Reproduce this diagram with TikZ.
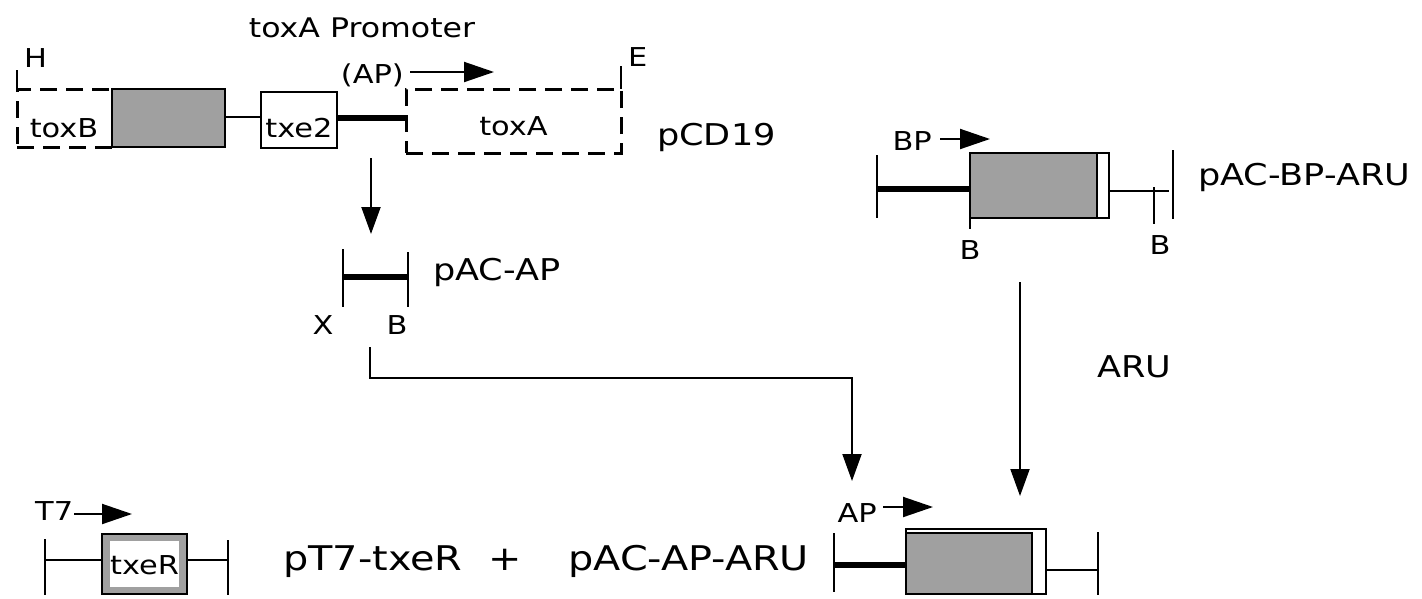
\documentclass[tikz,border=0pt]{standalone}
\usepackage{fontspec}
\setmainfont{DejaVu Sans}[FakeStretch=1.17]
\usetikzlibrary{arrows.meta}
\definecolor{genegray}{RGB}{160,160,160}
\tikzset{
  sm/.style={font=\fontsize{26}{30}\selectfont, inner sep=0pt},
  md/.style={font=\fontsize{30}{34}\selectfont, inner sep=0pt},
  lg/.style={font=\fontsize{34}{38}\selectfont, inner sep=0pt},
  dnaline/.style={line width=2pt},
  tickline/.style={line width=2.6pt},
  thickdna/.style={line width=6pt},
  genebox/.style={draw, line width=2.4pt, fill=genegray, inner sep=0pt, outer sep=0pt, anchor=north west},
  whitebox/.style={draw, line width=2.4pt, fill=white, inner sep=0pt, outer sep=0pt, anchor=north west},
  dashbox/.style={draw, dash pattern=on 17pt off 9pt, line width=3pt, inner sep=0pt, outer sep=0pt, anchor=north west},
  prom/.style={line width=2pt, -{Triangle[length=30pt,width=20pt]}},
  flow/.style={line width=2pt, -{Triangle[length=27pt,width=19pt]}},
}
\begin{document}
\begin{tikzpicture}[x=1pt,y=-1pt]
\useasboundingbox (0,0) rectangle (1422,598);
% ---------- pCD19 ----------
\node[dashbox, minimum width=95pt, minimum height=58pt] (toxB) at (17,89) {};
\node[genebox, minimum width=113pt, minimum height=58pt] (toxBg) at (112,89) {};
\node[sm, anchor=base] (toxBt) at (64,137) {toxB};
\node[whitebox, line width=2pt, minimum width=76pt, minimum height=56pt] (txe2) at (261,92) {};
\node[sm, anchor=base] (txe2t) at (txe2.center |- 0,137) {txe2};
\draw[dnaline] (toxBg.east |- 0,117) -- (txe2.west |- 0,117);
\node[dashbox, minimum width=215pt, minimum height=64pt] (toxA) at (406,89) {};
\node[sm, anchor=base] (toxAt) at (toxA.center |- 0,135) {toxA};
\draw[thickdna] (txe2.east |- 0,118) -- (toxA.west |- 0,118);
\coordinate (Htop) at (17,70);
\coordinate (Etop) at (621,66);
\draw[tickline] (Htop) -- (toxB.north west);
\draw[tickline] (Etop) -- (toxA.north east);
\node[sm, anchor=base west] (Hl) at (24,67) {H};
\node[sm, anchor=base west] (El) at (628,66) {E};
\node[sm, font=\fontsize{27}{30}\selectfont, anchor=base] (promt) at (362,37) {toxA Promoter};
\node[sm, anchor=base east] (APt) at (404,83) {(AP)};
\coordinate (APa) at (410,72);
\coordinate (APb) at (494,72);
\draw[prom] (APa) -- (APb);
\node[md, anchor=base west] (pCD) at (657,145) {pCD19};
\coordinate (d1a) at (371,158);
\coordinate (d1b) at (371,234);
\draw[flow] (d1a) -- (d1b);
% ---------- pAC-AP ----------
\coordinate (Xt) at (343,249);
\coordinate (Xb) at (343,307);
\coordinate (Bt) at (408,252);
\coordinate (Bb) at (408,307);
\draw[tickline] (Xt) -- (Xb);
\draw[tickline] (Bt) -- (Bb);
\draw[thickdna] (343,277) -- (408,277);
\node[sm, anchor=base] (Xl) at (323,334) {X};
\node[sm, anchor=base] (Bl) at (397,334) {B};
\node[md, anchor=base west] (pACAP) at (433,280) {pAC-AP};
\coordinate (f1a) at (370,347);
\coordinate (f1c) at (852,378);
\coordinate (f1b) at (852,481);
\draw[flow] (f1a) |- (f1c) -- (f1b);
% ---------- pAC-BP-ARU ----------
\node[whitebox, minimum width=139pt, minimum height=65pt] (bpO) at (970,153) {};
\node[genebox, minimum width=127pt, minimum height=65pt] (bpG) at (970,153) {};
\coordinate (bpL1) at (877,155);
\coordinate (bpL2) at (877,218);
\draw[tickline] (bpL1) -- (bpL2);
\draw[thickdna] (877,189) -- (bpG.west |- 0,189);
\draw[dnaline] (bpO.east |- 0,191) -- (1169,191);
\draw[tickline] (1154,187) -- (1154,224);
\draw[tickline] (1173,150) -- (1173,219);
\draw[tickline] (bpG.south west) -- ++(0,11);
\node[sm, anchor=base] (B1) at (970,259) {B};
\node[sm, anchor=base] (B2) at (1160,254) {B};
\node[sm, anchor=base east] (BPl) at (932,150) {BP};
\coordinate (BPa) at (940,139);
\coordinate (BPb) at (990,139);
\draw[prom] (BPa) -- (BPb);
\node[md, anchor=base west] (pACBP) at (1198,185) {pAC-BP-ARU};
\coordinate (d2a) at (1020,282);
\coordinate (d2b) at (1020,496);
\draw[flow] (d2a) -- (d2b);
\node[md, anchor=base west] (ARU) at (1097,377) {ARU};
% ---------- pT7-txeR ----------
\node[sm, anchor=base west] (T7l) at (35,520) {T7};
\coordinate (T7a) at (74,514);
\coordinate (T7b) at (132,514);
\draw[prom] (T7a) -- (T7b);
\draw[tickline] (45,539) -- (45,595);
\draw[tickline] (228,540) -- (228,595);
\node[draw, line width=2.4pt, fill=genegray, inner sep=0pt, outer sep=0pt, minimum width=85pt, minimum height=60pt, anchor=north west] (txeR) at (102,534) {};
\node[fill=white, inner sep=0pt, minimum width=69pt, minimum height=46pt] (txeRin) at (txeR.center) {};
\node[sm, anchor=base] (txeRt) at (txeR.center |- 0,574) {txeR};
\draw[dnaline] (45,560) -- (txeR.west |- 0,560);
\draw[dnaline] (txeR.east |- 0,560) -- (228,560);
\node[lg, anchor=base west] (pT7) at (283,570) {pT7-txeR};
\node[lg, anchor=base] (plus) at (505,570) {+};
\node[lg, anchor=base west] (pACAPARU) at (568,570) {pAC-AP-ARU};
% ---------- pAC-AP-ARU ----------
\node[sm, anchor=base east] (APl) at (877,522) {AP};
\coordinate (AP2a) at (883,507);
\coordinate (AP2b) at (933,507);
\draw[prom] (AP2a) -- (AP2b);
\draw[tickline] (834,533) -- (834,592);
\node[whitebox, minimum width=140pt, minimum height=65pt] (aruO) at (906,529) {};
\node[genebox, minimum width=126pt, minimum height=61pt] (aruG) at (906,533) {};
\draw[thickdna] (834,565) -- (aruG.west |- 0,565);
\draw[dnaline] (aruO.east |- 0,570) -- (1098,570);
\draw[tickline] (1098,532) -- (1098,595);
\end{tikzpicture}
\end{document}
